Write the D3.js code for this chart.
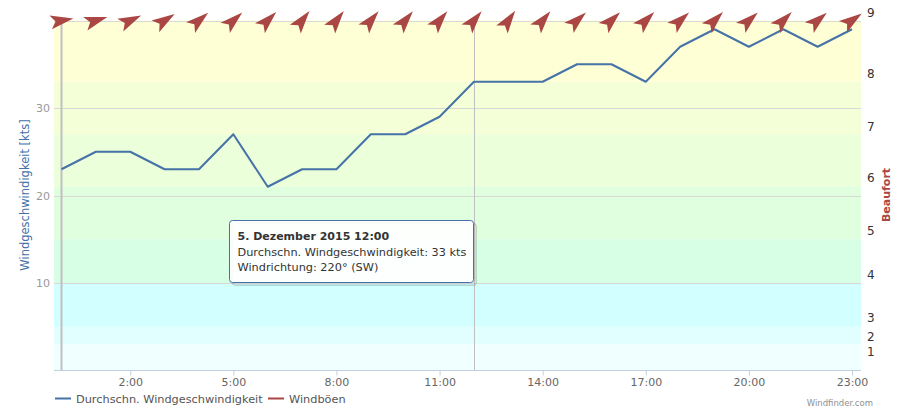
<!DOCTYPE html>
<html><head><meta charset="utf-8">
<script src="https://cdn.jsdelivr.net/npm/d3@7"></script>
<style>
body{margin:0;background:#fff}
svg{display:block;font-family:"DejaVu Sans",Verdana,sans-serif}
</style>
</head><body>
<svg id="c" width="904" height="409"></svg>
<script>
// ---- data ----
const hours = [0,1,2,3,4,5,6,7,8,9,10,11,12,13,14,15,16,17,18,19,20,21,22,23];
const avgSpeed = [23,25,25,23,23,27,21,23,23,27,27,29,33,33,33,35,35,33,37,39,37,39,37,39];
const windDir = [260,253,245,237,230,228,225,218,218,220,220,220,220,215,220,228,226,225,228,225,228,225,230,235];
const xTickHours = [2,5,8,11,14,17,20,23];
const xTickLabels = ["2:00","5:00","8:00","11:00","14:00","17:00","20:00","23:00"];
const yTickValues = [10,20,30];
const gridValues = [10,20,30,40];
const bftLabels = ["1","2","3","4","5","6","7","8","9"];
const bftPositions = [2.1,3.9,6,10.9,16,22,27.9,33.9,40.9];
const bandEdges = [0,3,5,10,15,21,27,33,40];
const bandColors = ["#f0ffff","#e2ffff","#d2ffff","#d6ffe6","#e0ffde","#ebffda","#f4ffd8","#ffffd6"];
const seriesNames = ["Durchschn. Windgeschwindigkeit","Windböen"];
const seriesColors = ["#4572A7","#AA4643"];
const tooltipLines = ["5. Dezember 2015 12:00","Durchschn. Windgeschwindigkeit: 33 kts","Windrichtung: 220° (SW)"];
const crosshairHour = 12;
const markerHour = 0;

// ---- layout ----
const plotL = 54, plotR = 861, plotT = 20.5, plotB = 370.5;
const svg = d3.select("#c");
svg.append("rect").attr("width",904).attr("height",409).attr("fill","#fff");

const x = d3.scaleLinear().domain([0,23]).range([61.5,852]);
const y = d3.scaleLinear().domain([0,40]).range([plotB,plotT]);

// bands
svg.append("g").selectAll("rect").data(bandColors).join("rect")
  .attr("x",plotL).attr("width",plotR-plotL)
  .attr("y",(d,i)=>y(bandEdges[i+1]))
  .attr("height",(d,i)=>y(bandEdges[i])-y(bandEdges[i+1]))
  .attr("fill",d=>d);

// grid
svg.append("g").selectAll("line").data(gridValues).join("line")
  .attr("x1",plotL).attr("x2",plotR)
  .attr("y1",d=>Math.round(y(d))+0.5).attr("y2",d=>Math.round(y(d))+0.5)
  .attr("stroke","#d8d8d8").attr("stroke-width",1);

// plot lines
svg.append("line").attr("x1",x(markerHour)).attr("x2",x(markerHour))
  .attr("y1",plotT).attr("y2",plotB).attr("stroke","#c0c0c0").attr("stroke-width",2);
svg.append("line").attr("x1",Math.round(x(crosshairHour))+0.5).attr("x2",Math.round(x(crosshairHour))+0.5)
  .attr("y1",plotT).attr("y2",plotB).attr("stroke","#c0c0c0").attr("stroke-width",1);

// x axis
const xAxis = svg.append("g").attr("transform",`translate(0,${plotB})`)
  .call(d3.axisBottom(x).tickValues(xTickHours).tickFormat((d,i)=>xTickLabels[i]).tickSize(5).tickPadding(3));
xAxis.select(".domain").remove();
xAxis.selectAll(".tick line").attr("stroke","#c0d0e0");
xAxis.selectAll("text").attr("fill","#666").style("font-size","11px").style("font-family","DejaVu Sans");
svg.append("line").attr("x1",plotL).attr("x2",plotR).attr("y1",plotB).attr("y2",plotB).attr("stroke","#c0d0e0");

// left axis
const yAxis = svg.append("g").attr("transform",`translate(${plotL},0)`)
  .call(d3.axisLeft(y).tickValues(yTickValues).tickSize(0).tickPadding(4));
yAxis.select(".domain").remove();
yAxis.selectAll("text").attr("fill","#999").style("font-size","11px").style("font-family","DejaVu Sans");

// right axis (Beaufort)
const rAxis = svg.append("g").attr("transform",`translate(${plotR},0)`)
  .call(d3.axisRight(y).tickValues(bftPositions).tickFormat((d,i)=>bftLabels[i]).tickSize(0).tickPadding(6));
rAxis.select(".domain").remove();
rAxis.selectAll("text").attr("fill","#333").style("font-size","12px").style("font-family","DejaVu Sans");

// axis titles
svg.append("text").attr("transform","translate(29,195) rotate(-90)").attr("text-anchor","middle")
  .attr("fill",seriesColors[0]).style("font-size","11.5px").text("Windgeschwindigkeit [kts]");
svg.append("text").attr("transform","translate(890,195) rotate(-90)").attr("text-anchor","middle")
  .attr("fill",seriesColors[1]).style("font-size","11px").style("font-weight","bold").text("Beaufort");

// speed line
svg.append("path").datum(hours)
  .attr("d",d3.line().x(h=>x(h)).y((h,i)=>y(avgSpeed[i])))
  .attr("fill","none").attr("stroke",seriesColors[0]).attr("stroke-width",2).attr("stroke-linejoin","round");

// direction arrows
svg.append("g").selectAll("path").data(hours).join("path")
  .attr("transform",(h,i)=>`translate(${x(h)},${plotT}) rotate(${(windDir[i]+180)%360})`)
  .attr("d","M0,-12 L7,11 L0,6 L-7,11 Z")
  .attr("fill",seriesColors[1]);

// tooltip
const tt = svg.append("g").attr("transform","translate(229.5,220.5)");
[3,2,1].forEach(o=>tt.append("rect").attr("x",o).attr("y",o).attr("width",244).attr("height",62).attr("rx",3)
  .attr("fill","none").attr("stroke","#000").attr("stroke-opacity",0.05*o).attr("stroke-width",1));
tt.append("rect").attr("width",244).attr("height",62).attr("rx",3)
  .attr("fill","#fff").attr("fill-opacity",0.92).attr("stroke",seriesColors[0]).attr("stroke-width",1);
tt.selectAll("text").data(tooltipLines).join("text")
  .attr("x",8).attr("y",(d,i)=>19.5+i*15.5)
  .attr("fill","#333").style("font-size",(d,i)=>i===0?"11px":"11.3px").style("font-weight",(d,i)=>i===0?"bold":"normal").text(d=>d);

// legend
const lg = svg.append("g");
const legendX = [55,268];
seriesNames.forEach((n,i)=>{
  lg.append("line").attr("x1",legendX[i]).attr("x2",legendX[i]+16).attr("y1",398.5).attr("y2",398.5)
    .attr("stroke",seriesColors[i]).attr("stroke-width",2);
  lg.append("text").attr("x",legendX[i]+21).attr("y",402.5).attr("fill","#555").style("font-size","11.3px").text(n);
});
svg.append("text").attr("x",873).attr("y",406).attr("text-anchor","end").attr("fill","#909090")
  .style("font-size","8.5px").text("Windfinder.com");
</script>
</body></html>
